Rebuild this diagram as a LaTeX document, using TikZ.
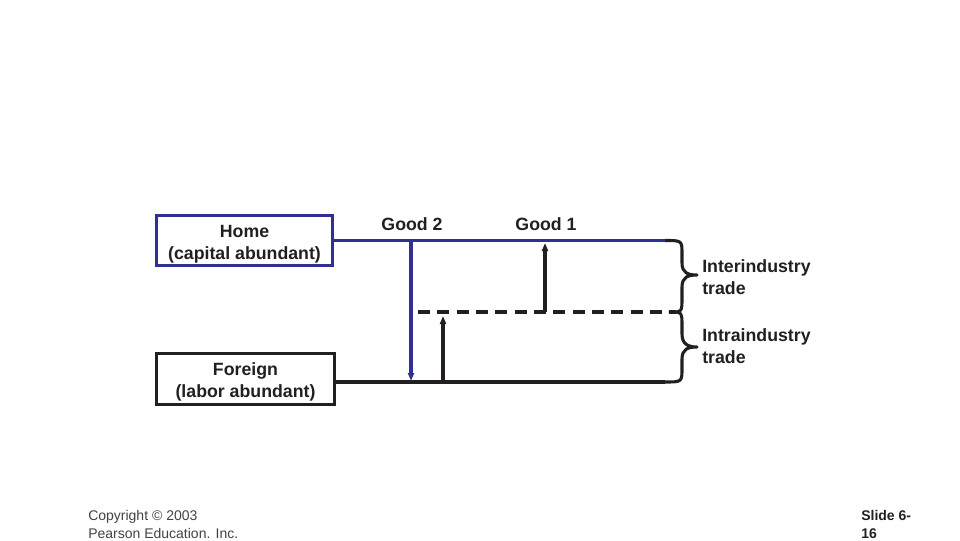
\documentclass[tikz,border=0pt]{standalone}
\usepackage{fontspec}
\setmainfont{Liberation Sans}
\usetikzlibrary{arrows.meta}
\definecolor{hblue}{RGB}{46,49,146}
\definecolor{ink}{RGB}{35,31,32}
\begin{document}
\begin{tikzpicture}[x=0.75pt,y=-0.75pt,
  every node/.style={text=ink},
  boxstyle/.style={draw,line width=2.4pt,minimum width=132pt,minimum height=38pt,align=center,inner sep=0pt,
    text height=30.5pt,font=\fontsize{13.3}{16.5}\selectfont\bfseries},
  lbl/.style={font=\fontsize{13.3}{16.5}\selectfont\bfseries,align=left,inner sep=0pt},
  wire/.style={line width=2.3pt},
  tip/.style={-{Triangle[length=6pt,width=4.5pt]}}]
\useasboundingbox (0,0) rectangle (960,540);
\node[boxstyle,draw=hblue] (home) at (244.5,240.5) {Home\\(capital abundant)};
\node[boxstyle,draw=ink,minimum width=133.5pt] (foreign) at (245.5,379) {Foreign\\(labor abundant)};
\coordinate (hl) at (665,240.5);
\coordinate (fl) at (665,382);
\coordinate (dl) at (418,312);
\coordinate (dr) at (676,312);
\draw[wire,hblue] (home.east) -- (hl);
\draw[wire,ink] (foreign.east |- fl) -- (fl);
\draw[wire,ink,dash pattern=on 9pt off 5.5pt] (dl) -- (dr);
% arrows
\node[lbl] (g2) at (412,224) {Good 2};
\node[lbl] (g1) at (546,224) {Good 1};
\coordinate (a2s) at (411,240.5);
\coordinate (a2e) at (411,381);
\draw[wire,hblue,tip] (a2s) -- (a2e);
\coordinate (a3s) at (443,382);
\coordinate (a3e) at (443,316);
\draw[wire,ink,tip] (a3s) -- (a3e);
\coordinate (a1s) at (545,312);
\coordinate (a1e) at (545,243);
\draw[wire,ink,tip] (a1s) -- (a1e);
% braces
\draw[wire,ink,line join=round] (hl) .. controls (682,240.5) .. (682,254) -- (682,263)
  .. controls (682,273) and (688,275) .. (697,275)
  .. controls (688,275) and (682,277) .. (682,287) -- (682,298)
  .. controls (682,312) .. (670,312)
  .. controls (682,312) .. (682,326) -- (682,334)
  .. controls (682,344) and (688,347) .. (697,347)
  .. controls (688,347) and (682,349) .. (682,359) -- (682,368)
  .. controls (682,382) .. (fl);
\node[lbl,anchor=west] (inter) at (702,277) {Interindustry\\trade};
\node[lbl,anchor=west] (intra) at (702,346) {Intraindustry\\trade};
\node[anchor=north west,inner sep=0pt,align=left,text=ink!85,font=\fontsize{10.5}{13.5}\selectfont] (copy) at (88,510) {Copyright © 2003\\Pearson Education. Inc.};
\node[anchor=north west,inner sep=0pt,align=left,font=\fontsize{10.5}{13.5}\selectfont\bfseries] (slide) at (861,510) {Slide 6-\\16};
\end{tikzpicture}
\end{document}
